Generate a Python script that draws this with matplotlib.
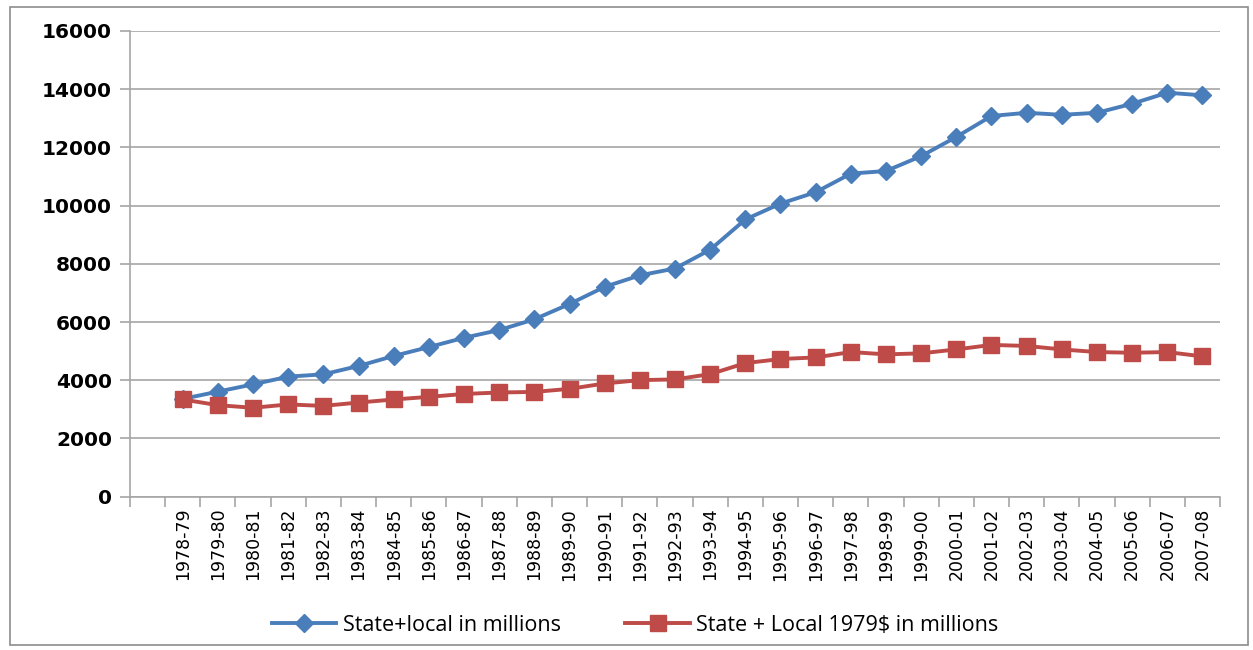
import matplotlib.pyplot as plt
import matplotlib.patches as patches

# Data
periods = ['1978-79', '1979-80', '1980-81', '1981-82', '1982-83', '1983-84',
           '1984-85', '1985-86', '1986-87', '1987-88', '1988-89', '1989-90',
           '1990-91', '1991-92', '1992-93', '1993-94', '1994-95', '1995-96',
           '1996-97', '1997-98', '1998-99', '1999-00', '2000-01', '2001-02',
           '2002-03', '2003-04', '2004-05', '2005-06', '2006-07', '2007-08']
nominal = [3360, 3610, 3860, 4125, 4205, 4490, 4835, 5140, 5460, 5725,
           6095, 6620, 7210, 7605, 7840, 8485, 9525, 10070, 10460, 11100,
           11190, 11700, 12360, 13080, 13190, 13120, 13190, 13500, 13880, 13790]
real_1979 = [3340, 3145, 3055, 3170, 3120, 3235, 3340, 3430, 3530, 3580,
             3600, 3705, 3890, 4005, 4030, 4210, 4590, 4730, 4785, 4970,
             4890, 4925, 5060, 5215, 5180, 5060, 4970, 4945, 4970, 4820]

blue = '#4a7ebb'
red = '#be4b48'
grid_gray = '#a6a6a6'

fig = plt.figure(figsize=(12.53, 6.5), dpi=100)
ax = fig.add_axes([130 / 1253, 1 - 496.7 / 650, 1090 / 1253, (496.7 - 31) / 650])

# outer chart border
fig.patches.append(patches.Rectangle((10 / 1253, 5 / 650), 1238 / 1253, 638 / 650,
                                     transform=fig.transFigure, fill=False,
                                     edgecolor='#8c8c8c', linewidth=1.2))

# first slot of the category axis is empty, like the original
xs = list(range(1, len(periods) + 1))
ax.plot(xs, nominal, color=blue, linewidth=2.8, marker='D', markersize=9,
        label='State+local in millions', zorder=3)
ax.plot(xs, real_1979, color=red, linewidth=2.8, marker='s', markersize=11,
        label='State + Local 1979$ in millions', zorder=4)

ax.set_xlim(-0.5, len(periods) + 0.5)
ax.set_ylim(0, 16000)
ax.set_yticks(range(0, 16001, 2000))
ax.yaxis.grid(True, color=grid_gray, linewidth=1.2)
ax.set_axisbelow(True)

# tick marks on category boundaries, labels centred in the slots
ax.set_xticks([i - 0.5 for i in range(len(periods) + 2)])
ax.set_xticklabels([])
ax.set_xticks(xs, minor=True)
ax.set_xticklabels(periods, minor=True, rotation=90,
                   family=['Liberation Sans Narrow', 'DejaVu Sans'], fontsize=12.5)
ax.tick_params(axis='x', which='major', length=7, color=grid_gray, width=1.2)
ax.tick_params(axis='x', which='minor', length=0, pad=8)
ax.tick_params(axis='y', length=7, color=grid_gray, width=1.2, pad=6)
for lbl in ax.get_yticklabels():
    lbl.set_fontfamily('DejaVu Sans')
    lbl.set_fontweight('bold')
    lbl.set_fontsize(14.5)

for side in ['top', 'right']:
    ax.spines[side].set_visible(False)
for side in ['left', 'bottom']:
    ax.spines[side].set_color(grid_gray)
    ax.spines[side].set_linewidth(1.2)

fig.legend(loc='center', bbox_to_anchor=(0.507, 0.038), ncol=2, frameon=False,
           prop={'family': 'Open Sans', 'size': 15.5}, columnspacing=3.0,
           handlelength=3.0, handletextpad=0.3)

fig.savefig('out.png', dpi=100)
